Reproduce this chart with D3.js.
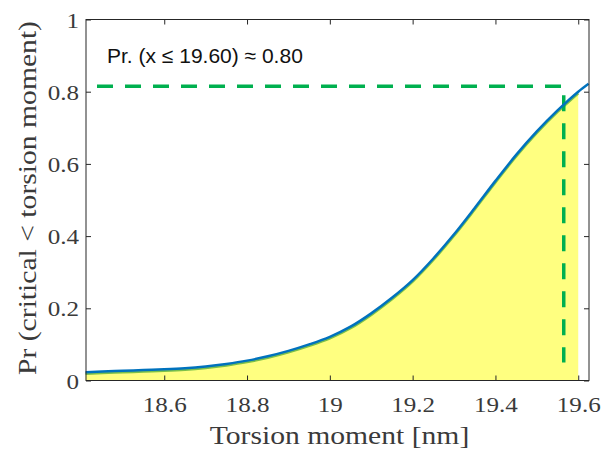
<!DOCTYPE html>
<html>
<head>
<meta charset="utf-8">
<script src="https://cdn.jsdelivr.net/npm/d3@7"></script>
<style>
  html, body { margin: 0; padding: 0; background: #fff; }
  svg { display: block; }
</style>
</head>
<body>
<svg id="chart" width="603" height="452"></svg>
<script>
// Cumulative probability of the critical torsion moment
const moment = [18.41, 18.45, 18.50, 18.55, 18.60, 18.65, 18.70, 18.75, 18.80, 18.85,
                18.90, 18.95, 19.00, 19.05, 19.10, 19.15, 19.20, 19.25, 19.30, 19.35,
                19.40, 19.45, 19.50, 19.55, 19.60, 19.625];
const prob   = [0.023, 0.025, 0.027, 0.029, 0.031, 0.034, 0.039, 0.046, 0.055, 0.067,
                0.082, 0.100, 0.121, 0.149, 0.186, 0.229, 0.278, 0.338, 0.405, 0.478,
                0.553, 0.625, 0.690, 0.748, 0.800, 0.822];

const xTicks = [18.6, 18.8, 19, 19.2, 19.4, 19.6];
const yTicks = [0, 0.2, 0.4, 0.6, 0.8, 1];
const xDomain = [18.411, 19.626];
const yDomain = [0, 1];

// Threshold shown by the guide lines and the shaded area
const threshold = 19.60;
const guideX = 19.565;
const guideY = 0.815;
const annotation = "Pr. (x \u2264 19.60) \u2248 0.80";

const margin = { left: 86, top: 19.5, right: 589, bottom: 380.5 };
const svg = d3.select("#chart");

const x = d3.scaleLinear().domain(xDomain).range([margin.left, margin.right]);
const y = d3.scaleLinear().domain(yDomain).range([margin.bottom, margin.top]);

const pts = moment.map((m, i) => ({ m, p: prob[i] }));
const shaded = pts.filter(d => d.m <= threshold + 1e-9);

const serif = "'Liberation Serif', 'DejaVu Serif', serif";
const stretch = 1.14;   // widen the serif face a little
const textColor = "#3a3a3a";

// Shaded area under the curve up to the threshold
const area = d3.area().x(d => x(d.m)).y0(y(0)).y1(d => y(d.p)).curve(d3.curveMonotoneX);
svg.append("path").datum(shaded).attr("d", area).attr("fill", "#ffff80");

// Green edge of the shaded area
const edge = d3.line().x(d => x(d.m)).y(d => y(d.p)).curve(d3.curveMonotoneX);
svg.append("path").datum(shaded).attr("d", edge)
  .attr("fill", "none").attr("stroke", "#7cc04a").attr("stroke-width", 2.5)
  .attr("transform", "translate(0,1.5)");

// Guide lines
const dash = "16 12";
svg.append("line")
  .attr("x1", x(xDomain[0]) + 11).attr("x2", x(guideX))
  .attr("y1", y(guideY)).attr("y2", y(guideY))
  .attr("stroke", "#00b04f").attr("stroke-width", 3.5).attr("stroke-dasharray", dash);
svg.append("line")
  .attr("x1", x(guideX)).attr("x2", x(guideX))
  .attr("y1", y(guideY) + 9).attr("y2", y(0.05))
  .attr("stroke", "#00b04f").attr("stroke-width", 3.5).attr("stroke-dasharray", dash);

// CDF curve
svg.append("path").datum(pts).attr("d", edge)
  .attr("fill", "none").attr("stroke", "#0072bd").attr("stroke-width", 2.5);

// Axes box
const axisColor = "#262626";
const gx = svg.append("g").attr("transform", `translate(0,${margin.bottom})`)
  .call(d3.axisBottom(x).tickValues(xTicks).tickFormat(d3.format("")).tickSize(-5));
const gxTop = svg.append("g").attr("transform", `translate(0,${margin.top})`)
  .call(d3.axisTop(x).tickValues(xTicks).tickFormat("").tickSize(-5));
const gy = svg.append("g").attr("transform", `translate(${margin.left},0)`)
  .call(d3.axisLeft(y).tickValues(yTicks).tickFormat(d3.format("")).tickSize(-5));
const gyR = svg.append("g").attr("transform", `translate(${margin.right},0)`)
  .call(d3.axisRight(y).tickValues(yTicks).tickFormat("").tickSize(-5));

[gx, gxTop, gy, gyR].forEach(g => {
  g.selectAll("path.domain").remove();
  g.selectAll(".tick line").attr("stroke", axisColor).attr("stroke-width", 1);
  g.selectAll(".tick text").attr("fill", textColor).attr("font-family", serif).attr("font-size", 22);
});
gx.selectAll(".tick text")
  .attr("x", 0).attr("y", 0).attr("dy", null)
  .attr("transform", `translate(0,31) scale(${stretch},1)`);
gy.selectAll(".tick text")
  .attr("x", 0).attr("dy", null)
  .attr("transform", `translate(-7,7.5) scale(${stretch},1)`);

svg.append("rect")
  .attr("x", margin.left).attr("y", margin.top)
  .attr("width", margin.right - margin.left).attr("height", margin.bottom - margin.top)
  .attr("fill", "none").attr("stroke", axisColor).attr("stroke-width", 1);

// Axis titles
svg.append("text")
  .attr("transform", `translate(${(margin.left + margin.right) / 2 + 2},444) scale(${stretch},1)`)
  .attr("text-anchor", "middle").attr("font-family", serif).attr("font-size", 26)
  .attr("fill", textColor).text("Torsion moment [nm]");
svg.append("text")
  .attr("transform", `translate(36,${(margin.top + margin.bottom) / 2 - 2}) rotate(-90) scale(${stretch},1)`)
  .attr("text-anchor", "middle").attr("font-family", serif).attr("font-size", 26)
  .attr("fill", textColor).text("Pr (critical < torsion moment)");

// Annotation
svg.append("text")
  .attr("x", 107).attr("y", 63)
  .attr("font-family", "'Liberation Sans', Arial, sans-serif").attr("font-size", 21)
  .attr("fill", "#111").text(annotation);
</script>
</body>
</html>
